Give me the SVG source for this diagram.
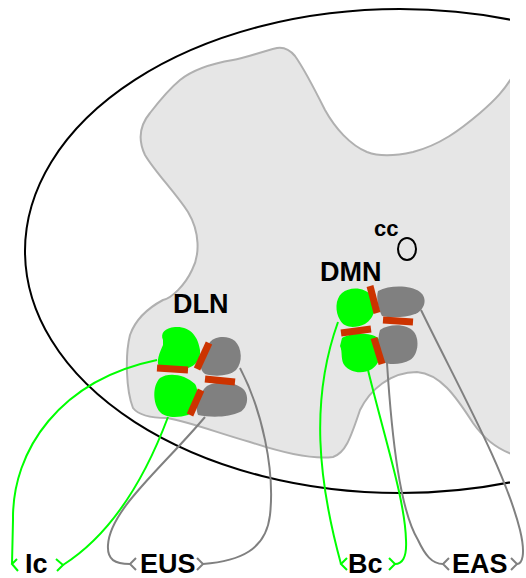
<svg xmlns="http://www.w3.org/2000/svg" width="526" height="578" viewBox="0 0 526 578">
  <defs>
    <clipPath id="section">
      <rect x="0" y="0" width="510" height="578"/>
    </clipPath>
    <style>
      .cord { fill: none; stroke: #000; stroke-width: 2; }
      .grey-matter { fill: #e6e6e6; stroke: #b0b0b0; stroke-width: 2; }
      .green { fill: #00ff00; }
      .gray { fill: #808080; }
      .bar { stroke: #cc3300; stroke-width: 7; fill: none; }
      .g-line { fill: none; stroke: #00ff00; stroke-width: 2; }
      .k-line { fill: none; stroke: #808080; stroke-width: 2; }
      .label { font-family: "Liberation Sans", Arial, sans-serif; font-weight: bold; font-size: 27px; fill: #000; }
      .small { font-size: 22px; }
    </style>
  </defs>

  <!-- spinal cord half-section, cut off at the midline -->
  <g id="section-outline" clip-path="url(#section)">
    <ellipse class="cord" cx="400" cy="251" rx="375" ry="242"/>
    <path class="grey-matter" d="M277,48 C 260,52 245,58 233,60 C 215,63 195,68 180,80 C 168,90 160,100 150,113 C 140,125 137,138 145,155 C 155,172 175,192 188,212 C 200,232 200,255 192,270 C 185,285 172,298 163,300 C 148,308 136,318 130,335 C 125,355 126,390 133,408 C 140,417 155,418 167,418 C 190,422 215,432 250,442 C 280,452 310,460 333,457 C 345,453 350,440 360,410 C 370,390 390,372 417,372 C 440,374 455,395 473,423 C 485,440 498,450 515,455 L 515,72 C 505,90 495,100 480,113 C 460,130 440,145 413,152 C 395,156 380,157 367,152 C 350,145 335,128 325,110 C 315,90 305,70 295,56 C 290,50 283,47 277,48 Z"/>
    <ellipse cx="407" cy="249" rx="9" ry="11" fill="none" stroke="#000" stroke-width="2"/>
  </g>

  <!-- projections to the periphery -->
  <g id="connectors">
    <path class="g-line" d="M157,360 C 60,380 12,450 13,520 L 12,564"/>
    <path class="g-line" d="M17,559 L12,564 L18,571"/>
    <path class="g-line" d="M168,417 C 150,465 118,530 63,565"/>
    <path class="g-line" d="M56,559 L63,565 L57,571"/>

    <path class="k-line" d="M205,417 C 160,470 110,510 108,545 C 107,560 115,564 130,564"/>
    <path class="k-line" d="M136,558 L130,564 L136,570"/>
    <path class="k-line" d="M240,368 C 262,410 275,470 270,515 C 266,550 240,561 203,564"/>
    <path class="k-line" d="M197,558 L203,564 L197,570"/>

    <path class="g-line" d="M338,322 C 310,400 318,480 341,564"/>
    <path class="g-line" d="M347,558 L341,564 L347,570"/>
    <path class="g-line" d="M368,370 C 385,440 405,500 406,540 C 407,558 402,564 395,564"/>
    <path class="g-line" d="M389,558 L395,564 L389,570"/>

    <path class="k-line" d="M387,363 C 392,440 400,510 418,540 C 425,555 432,564 443,564"/>
    <path class="k-line" d="M449,558 L443,564 L449,570"/>
    <path class="k-line" d="M421,310 C 460,390 505,470 520,530 C 526,555 522,564 517,564"/>
    <path class="k-line" d="M511,558 L517,564 L511,570"/>
  </g>

  <!-- dorsolateral nucleus -->
  <g id="DLN">
    <path class="green" d="M163,340 C 160,333 165,328 175,327 C 190,326 198,336 200,350 C 201,360 195,366 188,368 L 160,368 C 155,362 160,352 163,345 Z"/>
    <path class="green" d="M160,378 C 168,372 185,374 195,384 C 200,392 198,410 188,415 C 178,418 165,418 160,412 C 153,404 152,386 160,378 Z"/>
    <path class="gray" d="M210,342 C 215,336 228,335 235,341 C 242,348 243,362 236,370 C 230,376 215,377 205,374 C 199,370 200,362 203,355 Z"/>
    <path class="gray" d="M207,386 C 215,381 232,381 242,388 C 250,394 248,408 240,412 C 230,417 212,418 198,415 C 194,405 200,392 207,386 Z"/>
    <line class="bar" x1="157" y1="368" x2="188" y2="370"/>
    <line class="bar" x1="209" y1="343" x2="197" y2="369"/>
    <line class="bar" x1="205" y1="379" x2="235" y2="382"/>
    <line class="bar" x1="201" y1="390" x2="190" y2="415"/>
    <text class="label" x="173" y="313">DLN</text>
  </g>

  <!-- dorsomedial nucleus -->
  <g id="DMN">
    <path class="green" d="M342,293 C 350,286 365,287 372,296 C 378,304 375,318 365,324 C 356,328 345,329 340,320 C 335,312 335,299 342,293 Z"/>
    <path class="green" d="M342,338 C 350,333 370,332 378,338 C 384,345 382,362 372,369 C 362,375 350,372 345,366 C 340,360 343,352 340,346 Z"/>
    <path class="gray" d="M378,291 C 390,285 410,285 420,292 C 428,298 425,310 415,314 C 405,318 390,318 382,316 C 378,308 376,298 378,291 Z"/>
    <path class="gray" d="M380,330 C 390,323 408,324 414,332 C 420,340 418,355 410,360 C 402,365 388,365 383,362 C 378,352 377,340 380,330 Z"/>
    <line class="bar" x1="370" y1="286" x2="377" y2="313"/>
    <line class="bar" x1="341" y1="333" x2="371" y2="329"/>
    <line class="bar" x1="383" y1="320" x2="413" y2="322"/>
    <line class="bar" x1="374" y1="338" x2="382" y2="364"/>
    <text class="label" x="320" y="281">DMN</text>
  </g>

  <g id="cc">
    <text class="label small" x="374" y="236">cc</text>
  </g>

  <g id="Ic"><text class="label" x="25" y="573">Ic</text></g>
  <g id="EUS"><text class="label" x="140" y="573">EUS</text></g>
  <g id="Bc"><text class="label" x="348" y="573">Bc</text></g>
  <g id="EAS"><text class="label" x="452" y="573">EAS</text></g>
</svg>
